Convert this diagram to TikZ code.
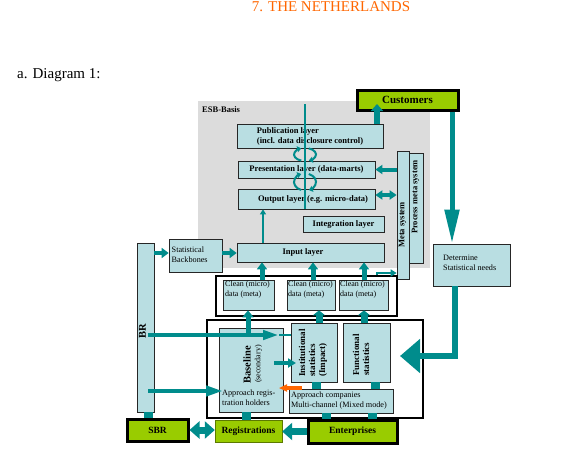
\documentclass[tikz,border=0pt]{standalone}
\usepackage{fontspec}
\setmainfont{Liberation Serif}
\usetikzlibrary{arrows.meta,calc}
\definecolor{teal1}{RGB}{0,140,140}
\definecolor{lb}{RGB}{185,222,226}
\definecolor{grn}{RGB}{153,204,0}
\definecolor{org}{RGB}{255,102,0}
\definecolor{hatch}{RGB}{220,220,220}
\newcommand\ffLay{\fontsize{8.5}{10}\selectfont\bfseries}
\newcommand\ffSm{\fontsize{8.2}{9.8}\selectfont}
\newcommand\ffGr{\fontsize{9.5}{11}\selectfont\bfseries}
\begin{document}
\begin{tikzpicture}[x=1pt,y=-1pt,
  bx/.style={draw=black!85,line width=0.7pt,fill=lb,inner sep=0pt},
  gbx/.style={draw=black,line width=3pt,fill=grn,inner sep=0pt,font=\ffGr},
  frm/.style={draw=black,fill=white,inner sep=0pt},
  lay/.style={font=\ffLay,inner sep=0pt},
  sm/.style={font=\ffSm,inner sep=0pt,align=left},
  ta/.style={draw=teal1,line width=4pt,-{Triangle[width=10pt,length=7pt]}},
  tl/.style={draw=teal1,line width=9pt},
  loop/.style={draw=teal1,line width=2pt,-{Triangle[width=6pt,length=4pt]}}]
\useasboundingbox (0,0) rectangle (567,452);

% titles
\node[text=org,font=\fontsize{15}{17}\selectfont,inner sep=0pt] (title) at (331,7) {7. THE NETHERLANDS};
\node[anchor=west,font=\fontsize{15}{17}\selectfont,inner sep=0pt] (adia) at (17,75) {a. Diagram 1:};

% ESB basis area
\node[fill=hatch,inner sep=0pt,minimum width=232pt,minimum height=167pt] (esb) at (314,184.5) {};
\node[lay,anchor=west] (esbl) at (202,110) {ESB-Basis};

% layers
\node[bx,minimum width=146pt,minimum height=24pt,align=left,font=\ffLay] (pub) at (310,136) {Publication layer\\(incl. data disclosure control)};
\node[bx,minimum width=137pt,minimum height=17pt,font=\ffLay] (pres) at (306.5,169.5) {Presentation layer (data-marts)};
\node[bx,minimum width=137pt,minimum height=20pt] (outl) at (306.5,199) {};
\node[lay] (outlt) at (313,199.5) {Output layer (e.g. micro-data)};
\node[bx,minimum width=81pt,minimum height=16pt,font=\ffLay] (integ) at (343.5,224) {Integration layer};
\node[bx,minimum width=147pt,minimum height=19pt] (inp) at (310.5,252.5) {};
\node[lay] (inpt) at (303,252.5) {Input layer};

% meta systems
\node[bx,minimum width=14pt,minimum height=110pt] (pmeta) at (416,208) {};
\node[lay,rotate=90] (pmetat) at (415.5,197) {Process meta system};
\node[bx,minimum width=12pt,minimum height=128pt] (meta) at (403,215) {};
\node[lay,rotate=90] (metat) at (402.5,225) {Meta system};

% statistical backbones and BR
\node[bx,minimum width=53pt,minimum height=33pt] (sbb) at (195.5,255.5) {};
\node[sm,anchor=west] (sbbt) at (171.5,255) {Statistical\\Backbones};
\node[bx,minimum width=17pt,minimum height=169pt] (br) at (145.5,327.5) {};
\node[rotate=90,font=\fontsize{10.5}{12}\selectfont\bfseries,inner sep=0pt] (brt) at (142.5,331) {BR};

% clean frame
\node[frm,line width=2pt,minimum width=181pt,minimum height=40pt] (cframe) at (306.5,296) {};
\node[bx,minimum width=51pt,minimum height=30pt] (c1) at (248.5,295) {};
\node[bx,minimum width=48pt,minimum height=30pt] (c2) at (311,295) {};
\node[bx,minimum width=49pt,minimum height=30pt] (c3) at (363.5,295) {};
\node[sm,font=\fontsize{8}{9.8}\selectfont,anchor=north west] (c1t) at (225,281) {Clean (micro)\\data (meta)};
\node[sm,font=\fontsize{8}{9.8}\selectfont,anchor=north west] (c2t) at (288,281) {Clean (micro)\\data (meta)};
\node[sm,font=\fontsize{8}{9.8}\selectfont,anchor=north west] (c3t) at (340,281) {Clean (micro)\\data (meta)};

% bottom frame
\node[frm,line width=1.3pt,minimum width=216pt,minimum height=98pt] (bframe) at (315,369) {};
\node[bx,minimum width=64pt,minimum height=84pt] (base) at (251,370) {};
\node[rotate=90,font=\fontsize{10.5}{12}\selectfont\bfseries,inner sep=0pt] (baset) at (247,365) {Baseline};
\node[rotate=90,font=\fontsize{8}{9}\selectfont,inner sep=0pt] (bases) at (258.5,364) {(secondary)};
\node[sm,anchor=west] (basea) at (222,398) {Approach regis-\\tration holders};
\node[bx,minimum width=46pt,minimum height=59pt] (inst) at (314,352.5) {};
\node[rotate=90,font=\fontsize{9}{10}\selectfont\bfseries,inner sep=0pt,align=left] (instt) at (313,353) {Institutional\\statistics\\(Impact)};
\node[bx,minimum width=47pt,minimum height=59pt] (func) at (366.5,352.5) {};
\node[rotate=90,font=\fontsize{9}{10}\selectfont\bfseries,inner sep=0pt,align=left] (funct) at (361,355) {Functional\\statistics};
\node[bx,minimum width=104pt,minimum height=24pt] (appc) at (341,401) {};
\node[sm,anchor=west] (appct) at (291,400.5) {Approach companies\\Multi-channel (Mixed mode)};

% green boxes
\node[gbx,minimum width=101pt,minimum height=20pt,font=\fontsize{11}{12}\selectfont\bfseries] (cust) at (407.5,100) {Customers};
\node[gbx,minimum width=61pt,minimum height=22pt] (sbr) at (157.5,430) {SBR};
\node[draw=grn!60!black,line width=0.4pt,fill=grn,inner sep=0pt,font=\ffGr,minimum width=67pt,minimum height=22pt] (reg) at (248.5,431) {Registrations};
\node[gbx,minimum width=89pt,minimum height=23pt] (ent) at (352.5,431.5) {Enterprises};

% determine
\node[bx,minimum width=77pt,minimum height=42pt] (det) at (471.5,265) {};
\node[sm,anchor=west] (dett) at (443,263) {Determine\\Statistical needs};

% helper coordinates
\coordinate (a1) at (377,104);
\coordinate (vt) at (305,104);
\coordinate (l1) at (305,154.5);
\coordinate (l2) at (305,182);
\coordinate (x263) at (263,0);
\coordinate (x262) at (262,0);
\coordinate (x313) at (313,0);
\coordinate (x364) at (364,0);
\coordinate (x319) at (319,0);
\coordinate (x316) at (316,0);
\coordinate (x375) at (375.5,0);
\coordinate (x326) at (326,0);
\coordinate (x372) at (372,0);
\coordinate (x246) at (246.5,0);
\coordinate (x148) at (148,0);
\coordinate (x377) at (377,0);
\coordinate (y273) at (0,273);
\coordinate (b1) at (248,335);
\coordinate (m1) at (279,335);
\coordinate (m2) at (274,363);
\coordinate (m2e) at (296,363);
\coordinate (m3) at (223,391);
\coordinate (m4s) at (302,388);
\coordinate (m4) at (279,388);
\coordinate (cd) at (452,0);
\coordinate (dd) at (455,0);
\coordinate (tipR) at (400,356);
\coordinate (s1) at ([yshift=2.5pt]sbb.west);
\coordinate (s2) at ([yshift=2.5pt]sbb.east);
\coordinate (o1) at ([yshift=4pt]outl.east);

% ESB connectors
\draw[teal1,line width=2pt] (vt) -- (vt |- outl.south);
\draw[loop] (l1) ++(110:11 and 6.5) arc[start angle=110,end angle=250,x radius=11,y radius=6.5];
\draw[loop] (l1) ++(-70:11 and 6.5) arc[start angle=-70,end angle=70,x radius=11,y radius=6.5];
\draw[loop] (l2) ++(110:11 and 8.5) arc[start angle=110,end angle=250,x radius=11,y radius=8.5];
\draw[loop] (l2) ++(-70:11 and 8.5) arc[start angle=-70,end angle=70,x radius=11,y radius=8.5];
\draw[ta,line width=6pt,-{Triangle[width=12pt,length=7pt]}] (pub.north -| a1) -- (a1);
\draw[ta,-{Triangle[width=9pt,length=7pt]}] (meta.west |- pres.east) -- (pres.east);
\draw[ta,{Triangle[width=9pt,length=7pt]}-{Triangle[width=9pt,length=7pt]}] (o1) -- (meta.west |- o1);
\draw[teal1,line width=1.8pt,-{Triangle[width=6pt,length=5pt]}] (inp.north -| x263) -- (outl.south -| x263);
\draw[ta] (br.east |- s1) -- (s1);
\draw[ta] (s2) -- (inp.west |- s2);
\draw[ta,line width=5pt] (c1.north -| x262) -- (inp.south -| x262);
\draw[ta,line width=5pt] (c2.north -| x313) -- (inp.south -| x313);
\draw[ta,line width=5pt] (c3.north -| x364) -- (inp.south -| x364);
\draw[teal1,line width=2.5pt,-{Triangle[width=7pt,length=6pt]}] (cframe.north -| x377) |- (meta.west |- y273);

% bottom connectors
\draw[teal1,line width=4pt,-{Triangle[width=9pt,length=16pt]}] (x148 |- m1) -- (m1);
\draw[teal1,line width=2pt] (m1) -- (inst.west |- m1);
\draw[ta,line width=5pt,-{Triangle[width=11pt,length=7pt]}] (b1) -- (c1.south -| b1);
\draw[ta,line width=7pt,-{Triangle[width=12pt,length=5pt]}] (inst.north -| x319) -- (c2.south -| x319);
\draw[ta,line width=7pt,-{Triangle[width=12pt,length=5pt]}] (func.north -| x364) -- (c3.south -| x364);
\draw[ta,-{Triangle[width=9pt,length=8pt]}] (m2) -- (m2e);
\draw[ta,-{Triangle[width=10pt,length=17pt]}] (x148 |- m3) -- (m3);
\draw[org,line width=3.5pt,-{Triangle[width=7pt,length=8pt]}] (m4s) -- (m4);
\draw[tl] (inst.south -| x316) -- (appc.north -| x316);
\draw[tl] (func.south -| x375) -- (appc.north -| x375);
\draw[tl] (appc.south -| x326) -- (ent.north -| x326);
\draw[tl] (appc.south -| x372) -- (ent.north -| x372);
\draw[tl] (base.south -| x246) -- (reg.north -| x246);
\draw[tl] (br.south -| x148) -- (sbr.north -| x148);
\draw[teal1,line width=7pt,{Triangle[width=17pt,length=10pt]}-{Triangle[width=17pt,length=10pt]}] (sbr.east) -- (reg.west |- sbr.east);
\draw[teal1,line width=7pt,-{Triangle[width=17pt,length=10pt]}] (ent.west) -- (reg.east |- ent.west);

% customers and needs
\draw[teal1,line width=5pt,-{Triangle[width=14pt,length=34pt]}] (cust.south -| cd) -- (det.north -| cd);
\draw[teal1,line width=6pt,-{Triangle[width=33pt,length=20pt]}] (det.south -| dd) |- (tipR);
\end{tikzpicture}
\end{document}
